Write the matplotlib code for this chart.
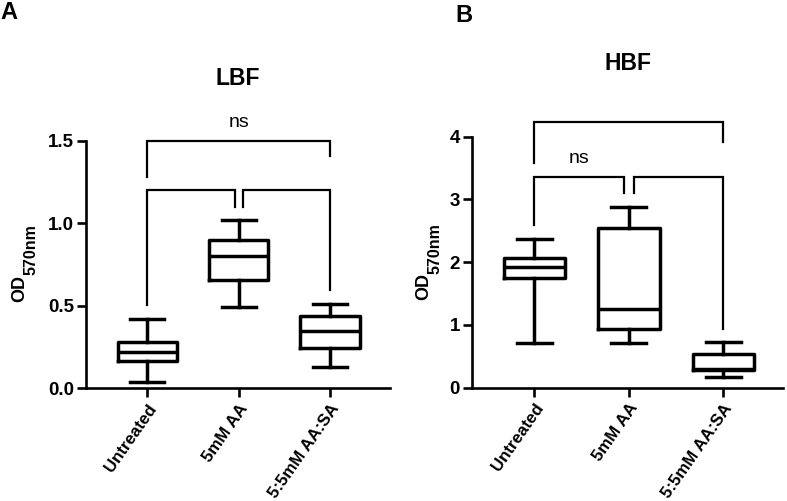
import numpy as np
import matplotlib
matplotlib.use("Agg")
import matplotlib.pyplot as plt

plt.rcParams['font.family'] = ['Liberation Sans', 'DejaVu Sans']

# data (min / q1 / median / q3 / max per group)
groups = ['Untreated', '5mM AA', '5:5mM AA:SA']

lbf_min = [0.04, 0.49, 0.13]
lbf_q1 = [0.163, 0.657, 0.243]
lbf_med = [0.218, 0.805, 0.348]
lbf_q3 = [0.282, 0.90, 0.439]
lbf_max = [0.418, 1.021, 0.509]

hbf_min = [0.71, 0.71, 0.17]
hbf_q1 = [1.74, 0.94, 0.28]
hbf_med = [1.93, 1.25, 0.29]
hbf_q3 = [2.07, 2.54, 0.54]
hbf_max = [2.37, 2.88, 0.73]

# brackets: (x1, x2, y, left leg bottom, right leg bottom, label)
lbf_brackets = [(0, 2, 1.5, 1.284, 1.411, 'ns'),
                (0, 0.955, 1.203, 0.505, 1.10, ''),
                (1.05, 2, 1.203, 1.10, 0.596, '')]
lbf_ns_y = 1.61
hbf_brackets = [(0, 2, 4.24, 3.58, 3.92, ''),
                (0, 0.95, 3.36, 2.59, 3.11, 'ns'),
                (1.055, 2, 3.36, 3.11, 0.94, '')]
hbf_ns_y = 3.66

LW_BOX = 2.5
LW_AX = 1.9
LW_BR = 1.6


def make_stats(mins, q1s, meds, q3s, maxs):
    stats = []
    for lo, a, m, b, hi in zip(mins, q1s, meds, q3s, maxs):
        stats.append({'whislo': lo, 'q1': a, 'med': m, 'q3': b, 'whishi': hi, 'fliers': []})
    return stats


def draw_panel(ax, stats, brackets, ns_y, ylim, yticks, yfmt, xlim):
    ax.bxp(stats, positions=range(len(stats)), widths=0.65, showfliers=False,
           boxprops=dict(linewidth=LW_BOX, color='black'),
           whiskerprops=dict(linewidth=LW_BOX, color='black'),
           capprops=dict(linewidth=LW_BOX, color='black'),
           medianprops=dict(linewidth=LW_BOX, color='black'),
           capwidths=0.37)
    for x1, x2, y, l1, l2, lab in brackets:
        ax.plot([x1, x1, x2, x2], [l1, y, y, l2], color='black', lw=LW_BR,
                clip_on=False, solid_joinstyle='miter')
        if lab:
            ax.text((x1 + x2) / 2, ns_y, lab, ha='center', va='center', fontsize=14)
    ax.set_ylim(*ylim)
    ax.set_xlim(*xlim)
    ax.set_yticks(yticks)
    ax.set_yticklabels([yfmt.format(t) for t in yticks], fontweight='bold', fontsize=13.5)
    ax.set_xticks(range(len(groups)))
    ax.set_xticklabels(groups, rotation=55, ha='right', rotation_mode='anchor',
                       fontweight='bold', fontsize=12.2)
    for side in ['top', 'right']:
        ax.spines[side].set_visible(False)
    for side in ['left', 'bottom']:
        ax.spines[side].set_linewidth(LW_AX)
    ax.tick_params(width=LW_AX, length=6.5, pad=2)
    ax.tick_params(axis='x', pad=3)


fig = plt.figure(figsize=(7.87, 5.01), dpi=100)
ax1 = fig.add_axes([0.1093, 0.225, 0.3863, 0.4936])
ax2 = fig.add_axes([0.5994, 0.2265, 0.3956, 0.5006])

draw_panel(ax1, make_stats(lbf_min, lbf_q1, lbf_med, lbf_q3, lbf_max),
           lbf_brackets, lbf_ns_y, (0, 1.5), [0.0, 0.5, 1.0, 1.5], '{:.1f}',
           (-0.671, 2.657))
draw_panel(ax2, make_stats(hbf_min, hbf_q1, hbf_med, hbf_q3, hbf_max),
           hbf_brackets, hbf_ns_y, (0, 4), [0, 1, 2, 3, 4], '{:.0f}',
           (-0.662, 2.632))

# y labels: "OD" with a large subscript
for ox, oy, sx, sy in [(20, 288, 31.5, 250), (424, 287, 435.5, 249)]:
    fig.text(ox / 787, 1 - oy / 501, 'OD', rotation=90, ha='center', va='center',
             fontsize=13, fontweight='bold')
    fig.text(sx / 787, 1 - sy / 501, '570nm', rotation=90, ha='center', va='center',
             fontsize=11.5, fontweight='bold')

fig.text(238 / 787, 1 - 78.5 / 501, 'LBF', ha='center', va='center', fontsize=16.5, fontweight='bold')
fig.text(628 / 787, 1 - 63.5 / 501, 'HBF', ha='center', va='center', fontsize=16.5, fontweight='bold')

fig.text(0 / 787, 1 - 1 / 501, 'A', ha='left', va='top', fontsize=17, fontweight='bold')
fig.text(455 / 787, 1 - 4 / 501, 'B', ha='left', va='top', fontsize=17, fontweight='bold')

fig.savefig('out.png', dpi=100)
